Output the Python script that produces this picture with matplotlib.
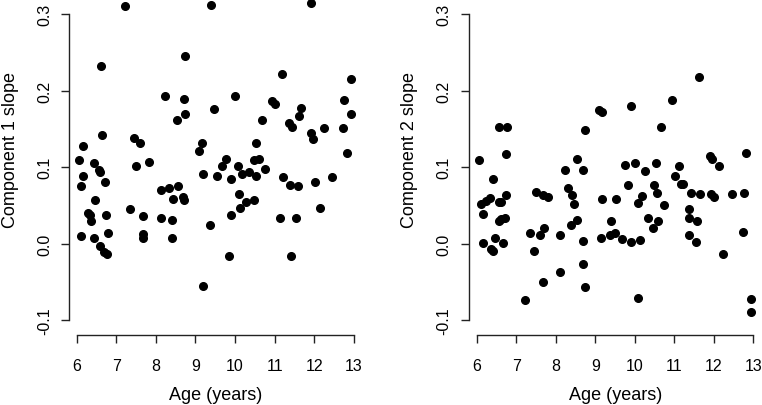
import numpy as np
import matplotlib
matplotlib.use("Agg")
import matplotlib.pyplot as plt

plt.rcParams['font.family'] = ['Liberation Sans', 'DejaVu Sans']

# component 1 slope vs age
age_c1 = [7.21, 9.39, 11.92, 6.61, 8.74, 8.24, 8.71, 8.74, 8.53, 9.48,
          10.00, 10.93, 11.01, 11.18, 10.69, 11.35, 11.44, 11.66, 11.61, 11.92,
          11.98, 12.24, 12.76, 12.93, 12.93, 12.73, 12.82, 6.06, 6.17, 6.12,
          6.16, 6.43, 6.57, 6.59, 6.72, 6.63, 6.45, 7.44, 7.60, 7.51,
          7.83, 9.10, 9.17, 9.19, 9.55, 9.66, 9.78, 9.90, 10.08, 10.18,
          10.35, 10.49, 10.60, 10.54, 10.53, 10.76, 11.21, 11.39, 11.60, 12.01,
          12.44, 8.14, 8.33, 8.56, 8.44, 8.68, 8.71, 10.09, 10.28, 10.47,
          6.12, 6.29, 6.34, 6.36, 6.44, 6.58, 6.70, 6.76, 6.75, 6.78,
          7.35, 7.68, 7.68, 7.68, 8.14, 8.41, 8.41, 9.19, 9.37, 9.84,
          9.90, 10.13, 11.13, 11.41, 11.54, 12.15]
slope_c1 = [0.311, 0.312, 0.314, 0.232, 0.245, 0.193, 0.189, 0.169, 0.161, 0.176,
            0.193, 0.186, 0.183, 0.222, 0.161, 0.158, 0.153, 0.177, 0.167, 0.144,
            0.137, 0.151, 0.187, 0.215, 0.170, 0.151, 0.118, 0.109, 0.127, 0.075,
            0.089, 0.105, 0.096, 0.093, 0.080, 0.142, 0.057, 0.138, 0.132, 0.102,
            0.107, 0.121, 0.132, 0.091, 0.089, 0.102, 0.111, 0.084, 0.101, 0.091,
            0.094, 0.109, 0.110, 0.131, 0.089, 0.098, 0.087, 0.077, 0.075, 0.080,
            0.087, 0.070, 0.073, 0.075, 0.059, 0.061, 0.057, 0.065, 0.055, 0.057,
            0.010, 0.040, 0.037, 0.030, 0.008, -0.003, -0.011, -0.013, 0.038, 0.014,
            0.045, 0.036, 0.013, 0.007, 0.033, 0.031, 0.008, -0.055, 0.024, -0.016,
            0.038, 0.047, 0.034, -0.016, 0.033, 0.046]

# component 2 slope vs age
age_c2 = [6.07, 6.56, 6.77, 6.74, 6.41, 6.75, 6.10, 6.24, 6.34, 6.56,
          6.62, 6.16, 6.56, 6.62, 6.72, 6.16, 6.46, 6.35, 6.41, 6.67,
          7.50, 7.67, 7.80, 7.35, 7.70, 7.60, 7.44, 7.69, 7.22, 8.23,
          8.54, 8.70, 8.74, 9.10, 9.17, 8.31, 8.41, 8.46, 8.54, 8.39,
          8.12, 8.70, 8.70, 8.12, 8.74, 9.16, 9.53, 9.40, 9.15, 9.37,
          9.49, 9.75, 9.82, 9.91, 10.01, 10.27, 10.18, 10.48, 10.53, 10.55,
          10.67, 10.94, 11.01, 11.13, 11.18, 11.22, 11.63, 11.43, 11.65, 11.90,
          11.96, 12.14, 11.92, 12.00, 12.46, 12.77, 12.82, 10.08, 10.75, 10.34,
          10.60, 10.47, 9.67, 9.90, 10.13, 11.38, 11.38, 11.58, 11.38, 11.56,
          12.75, 12.24, 10.09, 12.95, 12.93]
slope_c2 = [0.109, 0.152, 0.152, 0.117, 0.085, 0.064, 0.052, 0.056, 0.060, 0.054,
            0.054, 0.039, 0.030, 0.032, 0.033, 0.001, 0.007, -0.007, -0.009, 0.001,
            0.068, 0.064, 0.061, 0.014, 0.020, 0.011, -0.010, -0.050, -0.074, 0.096,
            0.110, 0.096, 0.148, 0.174, 0.172, 0.073, 0.064, 0.052, 0.031, 0.025,
            0.012, 0.003, -0.027, -0.037, -0.056, 0.058, 0.059, 0.030, 0.007, 0.011,
            0.014, 0.103, 0.077, 0.180, 0.105, 0.095, 0.062, 0.077, 0.105, 0.066,
            0.153, 0.187, 0.088, 0.102, 0.078, 0.078, 0.218, 0.066, 0.065, 0.114,
            0.111, 0.102, 0.065, 0.061, 0.065, 0.066, 0.118, 0.053, 0.051, 0.034,
            0.029, 0.020, 0.006, 0.002, 0.005, 0.045, 0.033, 0.029, 0.011, 0.002,
            0.015, -0.013, -0.071, -0.072, -0.089]

x_ticks = [6, 7, 8, 9, 10, 11, 12, 13]
y_ticks = [-0.1, 0.0, 0.1, 0.2, 0.3]
y_ticklabels = ["-0.1", "0.0", "0.1", "0.2", "0.3"]

W, H = 762, 406
fig = plt.figure(figsize=(W / 100, H / 100), dpi=100)


def draw_panel(left_px, right_px, xlim, ages, slopes, ylabel, ylabel_x):
    """One R-style scatter panel, positioned in pixels."""
    ax = fig.add_axes([left_px / W, 70 / H, (right_px - left_px) / W, 336 / H])
    ax.plot(ages, slopes, 'o', color='black', ms=5.5, clip_on=False)
    ax.set_xlim(*xlim)
    ax.set_ylim(-0.1192, 0.3195)
    for side in ['top', 'right']:
        ax.spines[side].set_visible(False)
    ax.spines['left'].set_bounds(-0.1, 0.3)
    ax.spines['bottom'].set_bounds(6, 13)
    for side in ['left', 'bottom']:
        ax.spines[side].set_color('#222222')
        ax.spines[side].set_linewidth(1.0)
    ax.set_xticks(x_ticks)
    ax.set_yticks(y_ticks)
    ax.set_yticklabels(y_ticklabels, rotation=90, va='center')
    ax.tick_params(length=5.8, width=1.0, color='#222222', labelsize=11.5)
    ax.tick_params(axis='x', pad=10.5)
    ax.tick_params(axis='y', pad=6.5)
    ax.patch.set_visible(False)
    xc = (ax.get_position().x0 + ax.get_position().x1) / 2
    fig.text(xc, 1 - 396 / H, "Age (years)", ha='center', va='center', fontsize=13)
    fig.text(ylabel_x / W, 1 - 150 / H, ylabel, rotation=90, ha='center', va='center', fontsize=13)
    return ax


draw_panel(69, 362.6, (5.806, 13.22), age_c1, slope_c1, "Component 1 slope", 11)
draw_panel(468.7, 762, (5.797, 13.22), age_c2, slope_c2, "Component 2 slope", 409)

fig.savefig("out.png", dpi=100)
